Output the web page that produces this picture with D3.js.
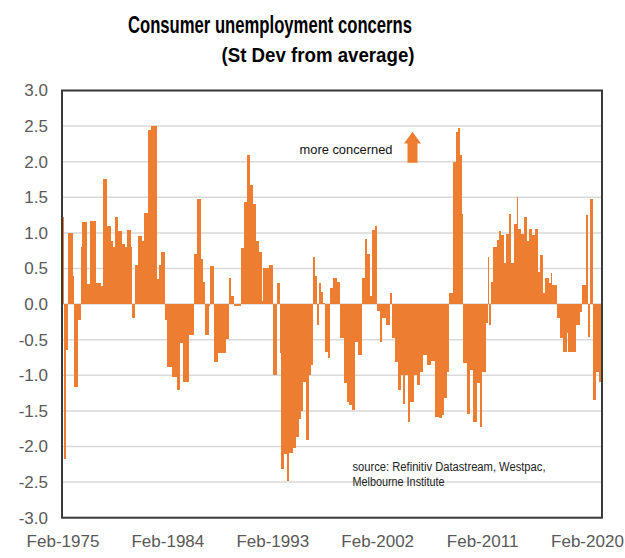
<!DOCTYPE html>
<html><head><meta charset="utf-8">
<script src="https://cdn.jsdelivr.net/npm/d3@7"></script>
<style>
html,body{margin:0;padding:0;background:#fff;}
svg{display:block;}
</style></head>
<body>
<svg id="chart" width="625" height="558"></svg>
<script>
// Start month of each period (bar runs to the next start) and its value (St Dev from average)
const periodStarts = [
"1975-02","1975-04","1975-06","1975-08","1976-01","1976-02","1976-06","1976-10","1976-11","1977-04",
"1977-07","1978-01","1978-06","1978-08","1978-12","1979-04","1979-07","1979-09","1979-12","1980-04",
"1980-07","1980-09","1981-01","1981-02","1981-05","1981-08","1981-12","1982-03","1982-07","1982-10",
"1983-04","1983-06","1983-08","1983-12","1984-02","1984-07","1984-12","1985-04","1985-07","1986-01",
"1986-06","1986-09","1987-01","1987-03","1987-05","1987-09","1987-10","1988-03","1988-07","1989-03",
"1989-06","1989-08","1989-11","1990-06","1990-09","1990-12","1991-04","1991-07","1991-10","1992-01",
"1992-04","1992-05","1992-11","1993-03","1993-07","1993-10","1993-12","1994-03","1994-06","1994-08",
"1994-12","1995-03","1995-06","1995-08","1995-10","1996-01","1996-04","1996-06","1996-08","1996-10",
"1997-01","1997-03","1997-05","1997-07","1997-09","1997-12","1998-02","1998-05","1998-09","1998-12",
"1999-04","1999-07","1999-10","2000-01","2000-04","2000-07","2000-11","2001-02","2001-04","2001-07",
"2001-09","2001-12","2002-02","2002-05","2002-08","2002-12","2003-04","2003-06","2003-09","2003-12",
"2004-03","2004-05","2004-07","2004-10","2004-12","2005-04","2005-08","2005-11","2006-02","2006-06",
"2006-10","2007-02","2007-06","2007-09","2007-11","2008-02","2008-04","2008-09","2008-12","2009-02",
"2009-04","2009-06","2009-07","2009-11","2010-02","2010-05","2010-09","2010-12","2011-03","2011-07",
"2011-09","2011-10","2011-12","2012-02","2012-06","2012-08","2012-10","2013-01","2013-03","2013-06",
"2013-08","2013-11","2014-02","2014-04","2014-07","2014-10","2015-01","2015-03","2015-06","2015-09",
"2015-12","2016-02","2016-05","2016-07","2016-11","2017-01","2017-03","2017-08","2017-11","2018-02",
"2018-06","2018-07","2019-03","2019-07","2019-09","2020-01","2020-02","2020-04","2020-06","2020-09",
"2020-12","2021-03"
];
const periodValues = [
1.22,-2.18,-0.65,1.0,0.4,-1.16,-0.23,0.8,1.15,0.28,
1.17,0.3,0.25,1.76,1.1,0.88,0.8,1.23,1.03,0.85,
0.8,1.04,0.8,-0.19,0.55,0.95,0.88,1.28,2.45,2.5,
0.35,0.55,0.73,-0.22,-0.89,-1.02,-1.2,-0.54,-1.09,-0.44,
0.71,1.47,0.64,0.31,-0.44,-0.03,0.54,-0.81,-0.69,-0.49,
0.36,0.12,-0.03,0.79,1.44,2.1,1.67,1.41,0.88,0.73,
0.05,0.51,0.55,-1.0,0.3,-0.68,-2.31,-2.1,-2.49,-2.09,
-2.02,-1.86,-1.62,-1.5,-1.09,-1.91,-1.0,-0.85,0.66,0.4,
-0.3,0.29,0.17,0.02,-0.67,-0.76,0.22,0.36,0.31,-0.48,
-1.11,-1.37,-1.42,-1.49,-0.53,-0.72,0.36,0.92,0.71,0.12,
1.04,1.09,-0.1,-0.53,-0.2,-0.3,0.16,-0.48,-0.81,-1.21,
-1.0,-1.4,-1.0,-1.65,-1.37,-1.0,-1.14,-0.95,-0.72,-0.86,
-0.8,-1.58,-1.6,-1.56,-1.32,-0.95,0.16,2.0,2.42,2.48,
2.09,1.27,-0.83,-1.54,-0.93,-1.65,-1.11,-1.72,-0.95,-0.27,
0.66,-0.3,0.31,0.8,0.9,1.02,0.97,0.58,0.99,1.27,
0.58,1.13,1.5,1.06,0.98,1.23,0.88,1.06,0.97,1.06,
0.45,0.69,0.15,0.37,0.3,0.43,0.27,-0.2,-0.48,-0.67,
-0.4,-0.67,-0.3,-0.11,0.27,0.64,1.25,-0.46,1.48,-1.35,
-0.95,-1.09
];
const seriesEnd = "2021-06";
const xTickLabels = ["Feb-1975","Feb-1984","Feb-1993","Feb-2002","Feb-2011","Feb-2020"];
const yTicks = [-3.0,-2.5,-2.0,-1.5,-1.0,-0.5,0.0,0.5,1.0,1.5,2.0,2.5,3.0];
const titleText = "Consumer unemployment concerns";
const subtitleText = "(St Dev from average)";
const annotationText = "more concerned";
const sourceLines = ["source:  Refinitiv Datastream, Westpac,", "Melbourne Institute"];

const parseM = d3.timeParse("%Y-%m");
const data = periodStarts.map((s, i) => ({
  start: parseM(s),
  end: parseM(i < periodStarts.length - 1 ? periodStarts[i + 1] : seriesEnd),
  value: periodValues[i]
}));

const svg = d3.select("#chart");
const plot = {left: 62, right: 602, top: 90.5, bottom: 517.7};
const FONT = "'Liberation Sans', Arial, sans-serif";
const NARROW = "'Liberation Sans Narrow', 'Arial Narrow', 'Liberation Sans', Arial, sans-serif";

const x = d3.scaleTime()
  .domain([parseM(periodStarts[0]), parseM(seriesEnd)])
  .range([plot.left, plot.right]);
const y = d3.scaleLinear().domain([-3, 3]).range([plot.bottom, plot.top]);

// gridlines
svg.append("g").selectAll("line").data(yTicks).join("line")
  .attr("x1", plot.left).attr("x2", plot.right)
  .attr("y1", d => y(d)).attr("y2", d => y(d))
  .attr("stroke", "#d9d9d9").attr("stroke-width", 1.5);

// bars
svg.append("g").attr("shape-rendering", "crispEdges")
  .selectAll("rect").data(data).join("rect")
  .attr("x", d => x(d.start))
  .attr("width", d => x(d.end) - x(d.start))
  .attr("y", d => y(Math.max(0, d.value)))
  .attr("height", d => Math.abs(y(d.value) - y(0)))
  .attr("fill", "#ED7D31");

// frame
svg.append("rect")
  .attr("x", plot.left).attr("y", plot.top)
  .attr("width", plot.right - plot.left).attr("height", plot.bottom - plot.top)
  .attr("fill", "none").attr("stroke", "#3a3a3a").attr("stroke-width", 2);

// y axis
const yAxis = d3.axisLeft(y).tickValues(yTicks).tickSize(0).tickPadding(14)
  .tickFormat(d => d.toFixed(1));
const gy = svg.append("g").attr("transform", `translate(${plot.left},0)`).call(yAxis);
gy.select(".domain").remove();
gy.selectAll("text").attr("font-family", FONT).attr("font-size", 17).attr("fill", "#595959");

// x axis
const fmt = d3.timeFormat("%b-%Y");
const tickDates = xTickLabels.map(s => d3.timeDay.offset(d3.timeParse("%b-%Y")(s), 15));
const xAxis = d3.axisBottom(x).tickValues(tickDates).tickSize(0).tickPadding(17)
  .tickFormat(d => fmt(d));
const gx = svg.append("g").attr("transform", `translate(0,${plot.bottom})`).call(xAxis);
gx.select(".domain").remove();
gx.selectAll("text").attr("font-family", FONT).attr("font-size", 17).attr("fill", "#595959");

// titles
svg.append("text").attr("x", 270).attr("y", 33).attr("text-anchor", "middle")
  .attr("font-family", NARROW).attr("font-weight", "bold").attr("font-size", 23)
  .attr("textLength", 284).attr("lengthAdjust", "spacingAndGlyphs")
  .attr("fill", "#000").text(titleText);
svg.append("text").attr("x", 318).attr("y", 62).attr("text-anchor", "middle")
  .attr("font-family", NARROW).attr("font-weight", "bold").attr("font-size", 20)
  .attr("textLength", 193).attr("lengthAdjust", "spacingAndGlyphs")
  .attr("fill", "#000").text(subtitleText);

// annotation
svg.append("text").attr("x", 299.5).attr("y", 154)
  .attr("font-family", NARROW).attr("font-size", 13)
  .attr("textLength", 93).attr("lengthAdjust", "spacingAndGlyphs")
  .attr("fill", "#111").text(annotationText);
const ax = 412.5;
svg.append("path")
  .attr("d", d3.line()([[ax - 8.5, 143.5], [ax, 131.7], [ax + 8.5, 143.5], [ax + 5, 143.5], [ax + 5, 162.7], [ax - 5, 162.7], [ax - 5, 143.5]]) + "Z")
  .attr("fill", "#ED7D31");

// source
svg.append("g").selectAll("text").data(sourceLines).join("text")
  .attr("x", 352.5).attr("y", (d, i) => 471 + i * 15)
  .attr("font-family", NARROW).attr("font-size", 12)
  .attr("textLength", (d, i) => i === 0 ? 193 : 92).attr("lengthAdjust", "spacingAndGlyphs")
  .attr("fill", "#222").text(d => d);
</script>
</body></html>
